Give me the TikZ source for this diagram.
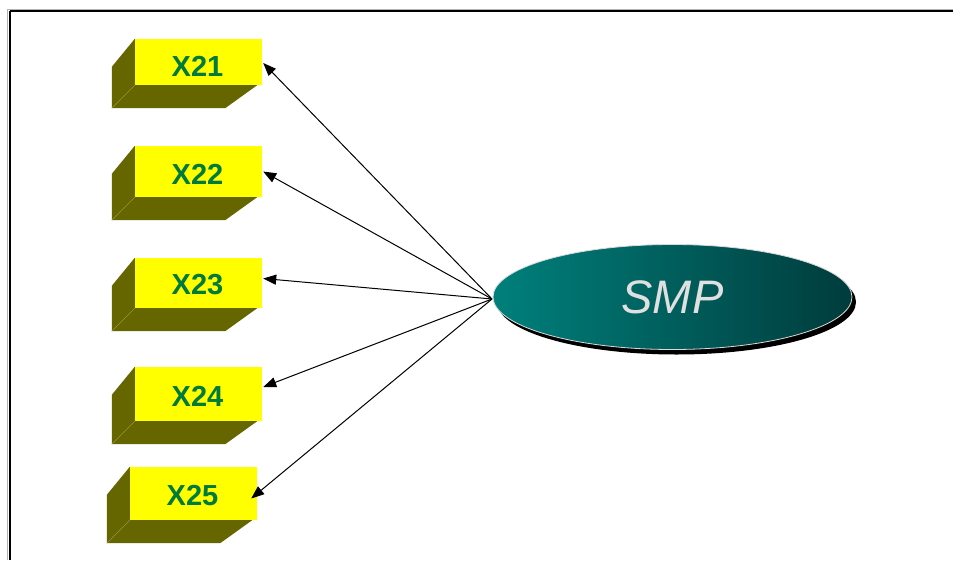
\documentclass[tikz,border=0pt]{standalone}
\usepackage{fontspec}
\setmainfont{Liberation Sans}
\usetikzlibrary{arrows.meta,calc,backgrounds,shadows,shapes.geometric}

\definecolor{boxface}{RGB}{255,255,0}
\definecolor{boxside}{RGB}{102,102,0}
\definecolor{boxedge}{RGB}{150,150,60}
\definecolor{labelgreen}{RGB}{0,122,61}
\definecolor{tealA}{RGB}{0,128,124}
\definecolor{tealB}{RGB}{0,60,60}

\tikzset{
  varbox/.style={draw=none, fill=boxface, minimum width=127pt, inner sep=0pt,
    font=\fontsize{29}{29}\bfseries, text=labelgreen},
  lbl/.style={font=\fontsize{29}{29}\bfseries, text=labelgreen, inner sep=0pt},
  latent/.style={ellipse, minimum width=359pt, minimum height=105pt, inner sep=0pt,
    draw=white!85!black, line width=0.8pt, left color=tealA, right color=tealB,
    font=\fontsize{47}{47}\itshape, text=white!88!black,
    drop shadow={shadow xshift=4pt, shadow yshift=-5pt, opacity=1, fill=black}},
  loading/.style={line width=1pt, -{Triangle[length=13pt,width=10pt]}},
}

% dark extrusion behind a front face
\newcommand{\boxdepth}[1]{%
  \fill[boxside] (#1.north west) -- ++(-23,28) -- ($(#1.south west)+(-23,23)$)
    -- ($(#1.south east)+(-37,23)$) -- ($(#1.south east)+(-5,0)$) -- (#1.south west) -- cycle;
  \draw[boxedge, line width=0.5pt] (#1.south west) -- ++(-23,23);
}

\begin{document}
\begin{tikzpicture}[x=1pt,y=-1pt]
  \useasboundingbox (0,0) rectangle (953,560);

  % observed indicators (front faces, labels set slightly low)
  \node[varbox, minimum height=46pt] (x21) at (198.5,62) {};
  \node[varbox, minimum height=51pt] (x22) at (198.5,171.5) {};
  \node[varbox, minimum height=50pt] (x23) at (198.5,283) {};
  \node[varbox, minimum height=54pt] (x24) at (198.5,394) {};
  \node[varbox, minimum height=53pt] (x25) at (193.5,493.5) {};
  \node[lbl] (t21) at ($(x21.center)+(-1,4)$) {X21};
  \node[lbl] (t22) at ($(x22.center)+(-1,3)$) {X22};
  \node[lbl] (t23) at ($(x23.center)+(-1,2)$) {X23};
  \node[lbl] (t24) at ($(x24.center)+(-1,2)$) {X24};
  \node[lbl] (t25) at ($(x25.center)+(-1,2)$) {X25};

  \begin{scope}[on background layer]
    \fill[white] (0,0) rectangle (953,560);
    % frame
    \draw[gray!60, line width=1pt] (7.5,9) -- (953,9);
    \draw[gray!60, line width=1pt] (7.5,9) -- (7.5,560);
    \draw[black, line width=2pt] (9.5,11) -- (953,11);
    \draw[black, line width=2pt] (9.5,11) -- (9.5,560);
    \boxdepth{x21}
    \boxdepth{x22}
    \boxdepth{x23}
    \boxdepth{x24}
    \boxdepth{x25}
  \end{scope}

  % latent variable
  \node[latent] (smp) at (672.5,297) {SMP};
  \coordinate (src) at (492,299);

  % loadings
  \draw[loading] (src) -- ($(x21.east)+(1,1)$);
  \draw[loading] (src) -- ($(x22.east)+(1,0)$);
  \draw[loading] (src) -- ($(x23.east)+(1,-4.5)$);
  \draw[loading] (src) -- ($(x24.east)+(1,-7)$);
  \draw[loading] (src) -- ($(x25.east)+(-6,5)$);
\end{tikzpicture}
\end{document}
